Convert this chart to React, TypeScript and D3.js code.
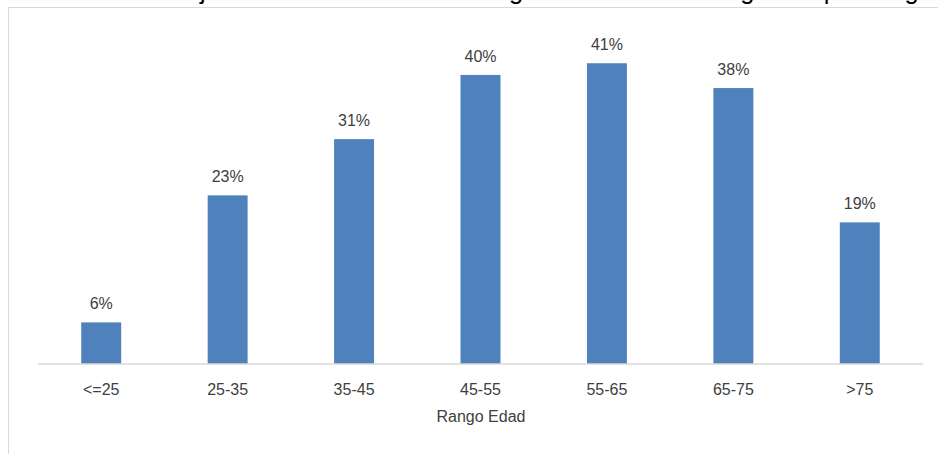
import React from "react";
import * as d3 from "d3";

const categories = ["<=25", "25-35", "35-45", "45-55", "55-65", "65-75", ">75"];
const values = [5.7, 23.1, 30.8, 39.6, 41.2, 37.8, 19.4];
const valueLabels = ["6%", "23%", "31%", "40%", "41%", "38%", "19%"];
const axisTitle = "Rango Edad";
const chartTitle = "Porcentaje de los socios afiliados según el nivel de los ingresos por rango de edad";

const W = 938;
const H = 454;
const font = "'Liberation Sans', Arial, sans-serif";

export default function App() {
  const x = d3.scaleBand<string>().domain(categories).range([38, 923]).paddingInner(0.684).paddingOuter(0.342);
  const y = d3.scaleLinear().domain([0, 45]).range([364, 35.5]);
  return (
    <svg width={W} height={H} style={{ position: "absolute", left: 0, top: 0, background: "#fff" }}>
      <rect x={0} y={0} width={W} height={H} fill="#fff" />
      <text x={98} y={-1} textAnchor="start" fontFamily={font} fontSize={25.5} fill="#000">
        {chartTitle}
      </text>
      <rect x={8.5} y={7.5} width={W} height={H} fill="#fff" stroke="#d9d9d9" strokeWidth={1} />
      {categories.map((c, i) => (
        <rect key={c} x={x(c)} y={y(values[i])} width={x.bandwidth()} height={y(0) - y(values[i])} fill="#4f81bd" />
      ))}
      <line x1={38} x2={923} y1={y(0)} y2={y(0)} stroke="#d9d9d9" strokeWidth={1.5} />
      {categories.map((c, i) => (
        <text key={"v" + c} x={(x(c) as number) + x.bandwidth() / 2} y={y(values[i]) - 13} textAnchor="middle" fontFamily={font} fontSize={16} fill="#404040">
          {valueLabels[i]}
        </text>
      ))}
      {categories.map((c) => (
        <text key={"c" + c} x={(x(c) as number) + x.bandwidth() / 2} y={395} textAnchor="middle" fontFamily={font} fontSize={16} fill="#404040">
          {c}
        </text>
      ))}
      <text x={481} y={422} textAnchor="middle" fontFamily={font} fontSize={16} fill="#404040">
        {axisTitle}
      </text>
    </svg>
  );
}
